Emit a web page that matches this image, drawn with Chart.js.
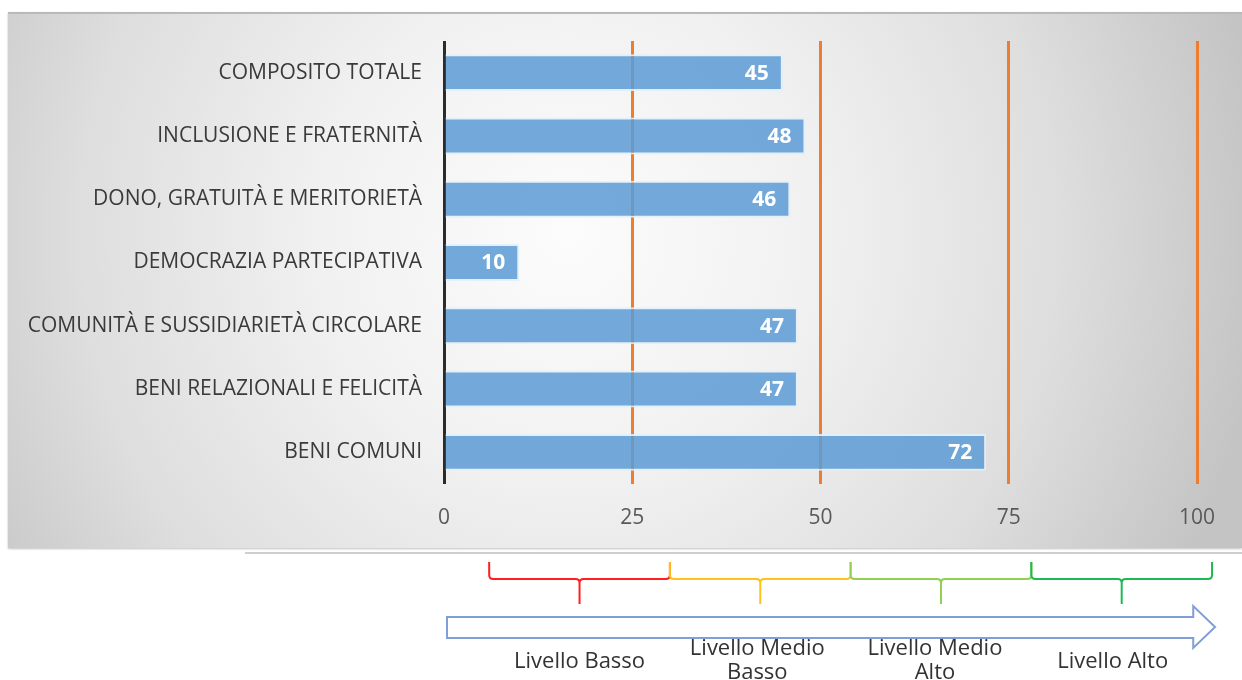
<!DOCTYPE html>
<html lang="it">
<head>
    <meta charset="UTF-8">
    <title>Livelli per dimensione</title>
    <script src="https://cdn.jsdelivr.net/npm/chart.js"></script>
    <style>
        body { margin: 0; width: 1242px; height: 680px; overflow: hidden; background: #fff; font-family: "Open Sans", sans-serif; }
        #panel {
            position: absolute; left: 8px; top: 12px; width: 1234px; height: 534px;
            border-top: 2px solid #b9b9b9;
            box-shadow: 0 1px 2px rgba(0,0,0,0.25);
            background: radial-gradient(ellipse 700px 700px at 560px 220px, #fcfcfc 0%, #f1f1f1 35%, #dedede 70%, #c4c4c4 100%);
        }
        #sep { position: absolute; left: 245px; top: 552px; width: 997px; height: 2px; background: #cfcfcf; }
        #chart { position: absolute; left: 0; top: 0; }
    </style>
</head>
<body>
    <div id="panel"></div>
    <div id="sep"></div>
    <canvas id="chart" width="1242" height="680"></canvas>
    <script>
        // dati
        const categorie = [
            'COMPOSITO TOTALE',
            'INCLUSIONE E FRATERNITÀ',
            'DONO, GRATUITÀ E MERITORIETÀ',
            'DEMOCRAZIA PARTECIPATIVA',
            'COMUNITÀ E SUSSIDIARIETÀ CIRCOLARE',
            'BENI RELAZIONALI E FELICITÀ',
            'BENI COMUNI'
        ];
        const valori = [45, 48, 46, 10, 47, 47, 72];
        const tickValori = [0, 25, 50, 75, 100];

        // scala dei livelli sotto il grafico
        const livelli = ['Livello Basso', 'Livello Medio\nBasso', 'Livello Medio\nAlto', 'Livello Alto'];
        const confiniLivelli = [6, 30, 54, 78, 102];
        const coloriLivelli = ['#ff1f1f', '#ffc21a', '#92d050', '#1db954'];

        const freccia = { da: 0.4, a: 99.5, punta: 102.4 };

        const etichetteBarre = {
            id: 'etichetteBarre',
            afterDatasetsDraw(chart) {
                const ctx = chart.ctx;
                const meta = chart.getDatasetMeta(0);
                ctx.save();
                ctx.fillStyle = '#ffffff';
                ctx.font = 'bold 21px "Open Sans"';
                ctx.textAlign = 'right';
                ctx.textBaseline = 'middle';
                meta.data.forEach((bar, i) => {
                    ctx.fillText(valori[i], bar.x - 14, bar.y + 1);
                });
                ctx.restore();
            }
        };

        const scalaLivelli = {
            id: 'scalaLivelli',
            afterDraw(chart) {
                const ctx = chart.ctx;
                const x = chart.scales.x;
                ctx.save();
                ctx.lineWidth = 2;
                // parentesi graffe
                for (let i = 0; i < livelli.length; i++) {
                    const x0 = x.getPixelForValue(confiniLivelli[i]);
                    const x1 = x.getPixelForValue(confiniLivelli[i + 1]);
                    const m = (x0 + x1) / 2;
                    const top = 562, mid = 579, tip = 604, r = 4;
                    ctx.strokeStyle = coloriLivelli[i];
                    ctx.beginPath();
                    ctx.moveTo(x0, top);
                    ctx.lineTo(x0, mid - r);
                    ctx.quadraticCurveTo(x0, mid, x0 + r, mid);
                    ctx.lineTo(m - r, mid);
                    ctx.quadraticCurveTo(m, mid, m, mid + r);
                    ctx.lineTo(m, tip);
                    ctx.moveTo(m, mid + r);
                    ctx.quadraticCurveTo(m, mid, m + r, mid);
                    ctx.lineTo(x1 - r, mid);
                    ctx.quadraticCurveTo(x1, mid, x1, mid - r);
                    ctx.lineTo(x1, top);
                    ctx.stroke();
                }
                // freccia
                const a = x.getPixelForValue(freccia.da);
                const b = x.getPixelForValue(freccia.a);
                const p = x.getPixelForValue(freccia.punta);
                ctx.strokeStyle = '#7f9fd6';
                ctx.lineWidth = 2;
                ctx.beginPath();
                ctx.moveTo(a, 617);
                ctx.lineTo(b, 617);
                ctx.lineTo(b, 606);
                ctx.lineTo(p, 627);
                ctx.lineTo(b, 648);
                ctx.lineTo(b, 638);
                ctx.lineTo(a, 638);
                ctx.closePath();
                ctx.stroke();
                // testi (leggermente spostati verso il centro)
                ctx.fillStyle = '#333333';
                ctx.font = '22px "Open Sans"';
                ctx.textAlign = 'center';
                ctx.textBaseline = 'middle';
                livelli.forEach((t, i) => {
                    const m = (x.getPixelForValue(confiniLivelli[i]) + x.getPixelForValue(confiniLivelli[i + 1])) / 2 - i * 3;
                    const righe = t.split('\n');
                    if (righe.length === 1) {
                        ctx.fillText(righe[0], m, 662);
                    } else {
                        ctx.fillText(righe[0], m, 649);
                        ctx.fillText(righe[1], m, 673);
                    }
                });
                ctx.restore();
            }
        };

        new Chart(document.getElementById('chart'), {
            type: 'bar',
            data: {
                labels: categorie,
                datasets: [{
                    data: valori,
                    backgroundColor: 'rgba(91, 155, 213, 0.85)',
                    borderColor: 'rgba(225, 238, 250, 0.9)',
                    borderWidth: 2,
                    barPercentage: 0.8,
                    categoryPercentage: 0.73
                }]
            },
            options: {
                indexAxis: 'y',
                responsive: false,
                animation: false,
                layout: { padding: { top: 41, right: 45, bottom: 133, left: 0 } },
                plugins: {
                    legend: { display: false },
                    tooltip: { enabled: false }
                },
                scales: {
                    x: {
                        min: 0,
                        max: 100,
                        afterBuildTicks: s => { s.ticks = tickValori.map(v => ({ value: v })); },
                        afterFit: s => { s.height = 63; },
                        border: { display: false },
                        grid: {
                            drawTicks: false,
                            lineWidth: 3,
                            color: c => c.tick && c.tick.value === 0 ? '#2b2b2b' : '#ed7d31'
                        },
                        ticks: {
                            padding: 21,
                            color: '#595959',
                            font: { family: 'Open Sans', size: 21 }
                        }
                    },
                    y: {
                        afterFit: s => { s.width = 444; },
                        border: { display: false },
                        grid: { display: false, drawTicks: false },
                        ticks: {
                            padding: 22,
                            color: '#3a3a3a',
                            font: { family: 'Open Sans', size: 21 }
                        }
                    }
                }
            },
            plugins: [etichetteBarre, scalaLivelli]
        });
    </script>
</body>
</html>
